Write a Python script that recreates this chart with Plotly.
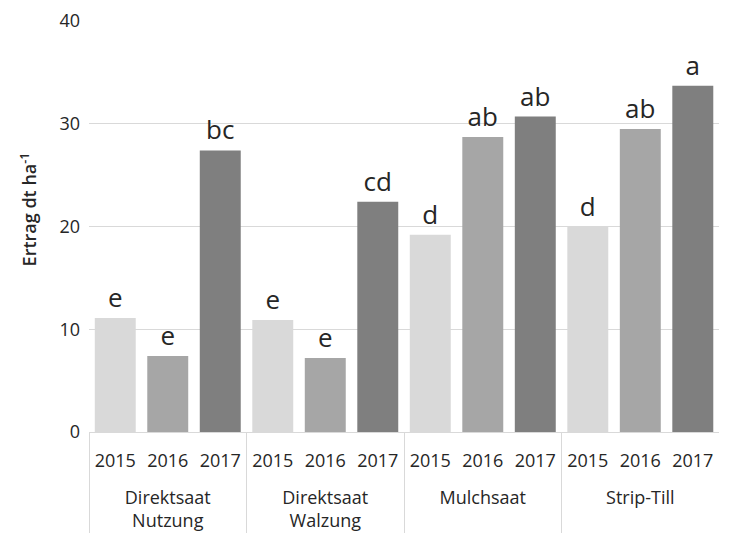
import plotly.graph_objects as go

groups = ["Direktsaat<br>Nutzung", "Direktsaat<br>Walzung", "Mulchsaat", "Strip-Till"]
years = ["2015", "2016", "2017"]
values = {
    "Direktsaat<br>Nutzung": [11.1, 7.4, 27.4],
    "Direktsaat<br>Walzung": [10.9, 7.2, 22.4],
    "Mulchsaat": [19.2, 28.7, 30.7],
    "Strip-Till": [20.0, 29.5, 33.7],
}
letters = {
    "Direktsaat<br>Nutzung": ["e", "e", "bc"],
    "Direktsaat<br>Walzung": ["e", "e", "cd"],
    "Mulchsaat": ["d", "ab", "ab"],
    "Strip-Till": ["d", "ab", "a"],
}
year_colors = {"2015": "#d9d9d9", "2016": "#a6a6a6", "2017": "#7f7f7f"}

xg, xy, yv, tv, cv = [], [], [], [], []
for g in groups:
    for i, yr in enumerate(years):
        # leading blank line pushes the group label further below the years
        xg.append("<br>" + g)
        xy.append(yr)
        yv.append(values[g][i])
        tv.append(letters[g][i])
        cv.append(year_colors[yr])

FONT = "Open Sans"
TXT = "#262626"

fig = go.Figure(go.Bar(
    x=[xg, xy], y=yv, text=tv,
    textposition="outside",
    textfont=dict(family=FONT, size=26, color=TXT),
    marker=dict(color=cv, line=dict(width=0)),
    cliponaxis=False,
    showlegend=False,
))

fig.update_layout(
    width=729, height=535,
    margin=dict(l=89, r=10, t=21, b=103),
    paper_bgcolor="white", plot_bgcolor="white",
    bargap=0.22,
    font=dict(family=FONT, size=18, color=TXT),
    xaxis=dict(
        type="multicategory",
        range=[-0.5, 11.499],
        automargin=False,
        showline=True, linecolor="#d9d9d9", linewidth=1,
        showdividers=True, dividercolor="#d9d9d9", dividerwidth=1,
        tickfont=dict(family=FONT, size=18, color=TXT),
        ticklabelstandoff=12,
        ticks="",
        showgrid=False,
    ),
    yaxis=dict(
        range=[0, 40], dtick=10,
        automargin=False,
        showgrid=True, gridcolor="#d9d9d9", gridwidth=1,
        zeroline=False, showline=False, ticks="",
        ticklabelstandoff=8,
        tickfont=dict(family=FONT, size=18, color=TXT),
    ),
    annotations=[dict(
        text="Ertrag dt ha<sup>-1</sup>",
        xref="paper", yref="paper",
        x=(29 - 89) / 630, y=(431.5 - 209) / 410.8,
        textangle=-90, showarrow=False,
        font=dict(family=FONT, size=18, color=TXT, weight=600),
        xanchor="center", yanchor="middle",
    )],
)

fig.write_html("out.html")
